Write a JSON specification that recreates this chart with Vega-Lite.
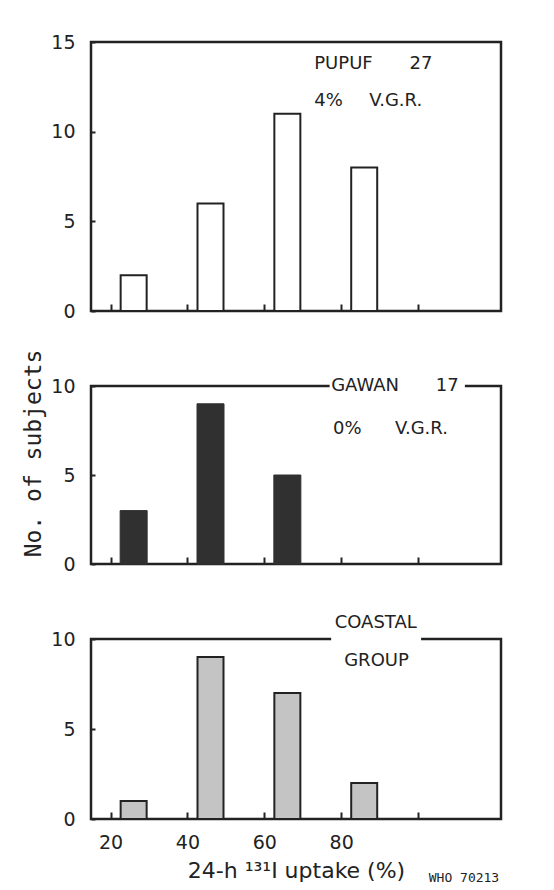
{
  "$schema": "https://vega.github.io/schema/vega-lite/v6.json",
  "background": "white",
  "padding": {"left": 20, "top": 31, "right": 30, "bottom": 5},
  "bounds": "flush",
  "spacing": 75,
  "config": {
    "font": "DejaVu Sans",
    "view": {"stroke": "#222", "strokeWidth": 2.5},
    "axis": {
      "grid": false,
      "domain": false,
      "labelFont": "DejaVu Sans",
      "labelFontSize": 19,
      "labelColor": "#222",
      "tickColor": "#222",
      "tickWidth": 2,
      "titleColor": "#222",
      "titleFontWeight": "normal"
    },
    "text": {"color": "#222", "fontSize": 18, "font": "DejaVu Sans", "baseline": "middle", "align": "left"}
  },
  "datasets": {
    "pupuf": [
      {"uptake": 26, "subjects": 2},
      {"uptake": 46, "subjects": 6},
      {"uptake": 66, "subjects": 11},
      {"uptake": 86, "subjects": 8}
    ],
    "gawan": [
      {"uptake": 26, "subjects": 3},
      {"uptake": 46, "subjects": 9},
      {"uptake": 66, "subjects": 5}
    ],
    "coastal": [
      {"uptake": 26, "subjects": 1},
      {"uptake": 46, "subjects": 9},
      {"uptake": 66, "subjects": 7},
      {"uptake": 86, "subjects": 2}
    ],
    "one": [{}]
  },
  "vconcat": [
    {
      "width": 410,
      "height": 269,
      "layer": [
        {
          "data": {"name": "pupuf"},
          "mark": {"type": "bar", "fill": "white", "stroke": "#222", "strokeWidth": 2, "size": 26},
          "encoding": {
            "x": {"field": "uptake", "type": "quantitative",
              "scale": {"domain": [16.2, 120.3], "nice": false, "zero": false},
              "axis": {"values": [20, 40, 60, 80, 100], "labels": false, "tickSize": -7, "title": null}},
            "y": {"field": "subjects", "type": "quantitative",
              "scale": {"domain": [0, 15], "nice": false},
              "axis": {"values": [0, 5, 10, 15], "tickSize": -4, "labelPadding": 20, "title": null}}
          }
        },
        {"data": {"name": "one"}, "mark": {"type": "text"},
          "encoding": {"x": {"datum": 73}, "y": {"datum": 13.8}, "text": {"value": "PUPUF"}}},
        {"data": {"name": "one"}, "mark": {"type": "text"},
          "encoding": {"x": {"datum": 97.8}, "y": {"datum": 13.8}, "text": {"value": "27"}}},
        {"data": {"name": "one"}, "mark": {"type": "text"},
          "encoding": {"x": {"datum": 73}, "y": {"datum": 11.7}, "text": {"value": "4%"}}},
        {"data": {"name": "one"}, "mark": {"type": "text"},
          "encoding": {"x": {"datum": 87.3}, "y": {"datum": 11.7}, "text": {"value": "V.G.R."}}}
      ]
    },
    {
      "width": 410,
      "height": 178,
      "layer": [
        {
          "data": {"name": "gawan"},
          "mark": {"type": "bar", "fill": "#303030", "stroke": "#303030", "strokeWidth": 1, "size": 27},
          "encoding": {
            "x": {"field": "uptake", "type": "quantitative",
              "scale": {"domain": [16.2, 120.3], "nice": false, "zero": false},
              "axis": {"values": [20, 40, 60, 80, 100], "labels": false, "tickSize": -7, "title": null}},
            "y": {"field": "subjects", "type": "quantitative",
              "scale": {"domain": [0, 10], "nice": false},
              "axis": {"values": [0, 5, 10], "tickSize": -4, "labelPadding": 20,
                "title": "No. of subjects", "titleFont": "DejaVu Sans Mono", "titleFontSize": 23,
                "titleX": -46, "titleY": 67}}
          }
        },
        {"data": {"name": "one"}, "mark": {"type": "rect", "fill": "white"},
          "encoding": {"x": {"datum": 77}, "x2": {"datum": 112.2}, "y": {"datum": 9.6}, "y2": {"datum": 10.4}}},
        {"data": {"name": "one"}, "mark": {"type": "text"},
          "encoding": {"x": {"datum": 77.4}, "y": {"datum": 10}, "text": {"value": "GAWAN"}}},
        {"data": {"name": "one"}, "mark": {"type": "text"},
          "encoding": {"x": {"datum": 104.6}, "y": {"datum": 10}, "text": {"value": "17"}}},
        {"data": {"name": "one"}, "mark": {"type": "text"},
          "encoding": {"x": {"datum": 77.9}, "y": {"datum": 7.6}, "text": {"value": "0%"}}},
        {"data": {"name": "one"}, "mark": {"type": "text"},
          "encoding": {"x": {"datum": 94}, "y": {"datum": 7.6}, "text": {"value": "V.G.R."}}}
      ]
    },
    {
      "width": 410,
      "height": 180,
      "layer": [
        {
          "data": {"name": "coastal"},
          "mark": {"type": "bar", "fill": "#c4c4c4", "stroke": "#222", "strokeWidth": 2, "size": 26},
          "encoding": {
            "x": {"field": "uptake", "type": "quantitative",
              "scale": {"domain": [16.2, 120.3], "nice": false, "zero": false},
              "axis": {"values": [20, 40, 60, 80, 100], "tickSize": -7, "labelPadding": 21, "labelDx": 5,
                "labelExpr": "datum.value == 100 ? '' : datum.label",
                "title": "24-h ¹³¹I uptake (%)", "titleFontSize": 22, "titlePadding": 8}},
            "y": {"field": "subjects", "type": "quantitative",
              "scale": {"domain": [0, 10], "nice": false},
              "axis": {"values": [0, 5, 10], "tickSize": -4, "labelPadding": 20, "title": null}}
          }
        },
        {"data": {"name": "one"}, "mark": {"type": "rect", "fill": "white"},
          "encoding": {"x": {"datum": 77.4}, "x2": {"datum": 100.8}, "y": {"datum": 9.6}, "y2": {"datum": 10.4}}},
        {"data": {"name": "one"}, "mark": {"type": "text", "align": "center"},
          "encoding": {"x": {"datum": 89}, "y": {"datum": 10.9}, "text": {"value": "COASTAL"}}},
        {"data": {"name": "one"}, "mark": {"type": "text", "align": "center"},
          "encoding": {"x": {"datum": 89.2}, "y": {"datum": 8.8}, "text": {"value": "GROUP"}}},
        {"data": {"name": "one"}, "mark": {"type": "text", "font": "DejaVu Sans Mono", "fontSize": 13},
          "encoding": {"x": {"datum": 102.8}, "y": {"datum": -3.3}, "text": {"value": "WHO 70213"}}}
      ]
    }
  ]
}
